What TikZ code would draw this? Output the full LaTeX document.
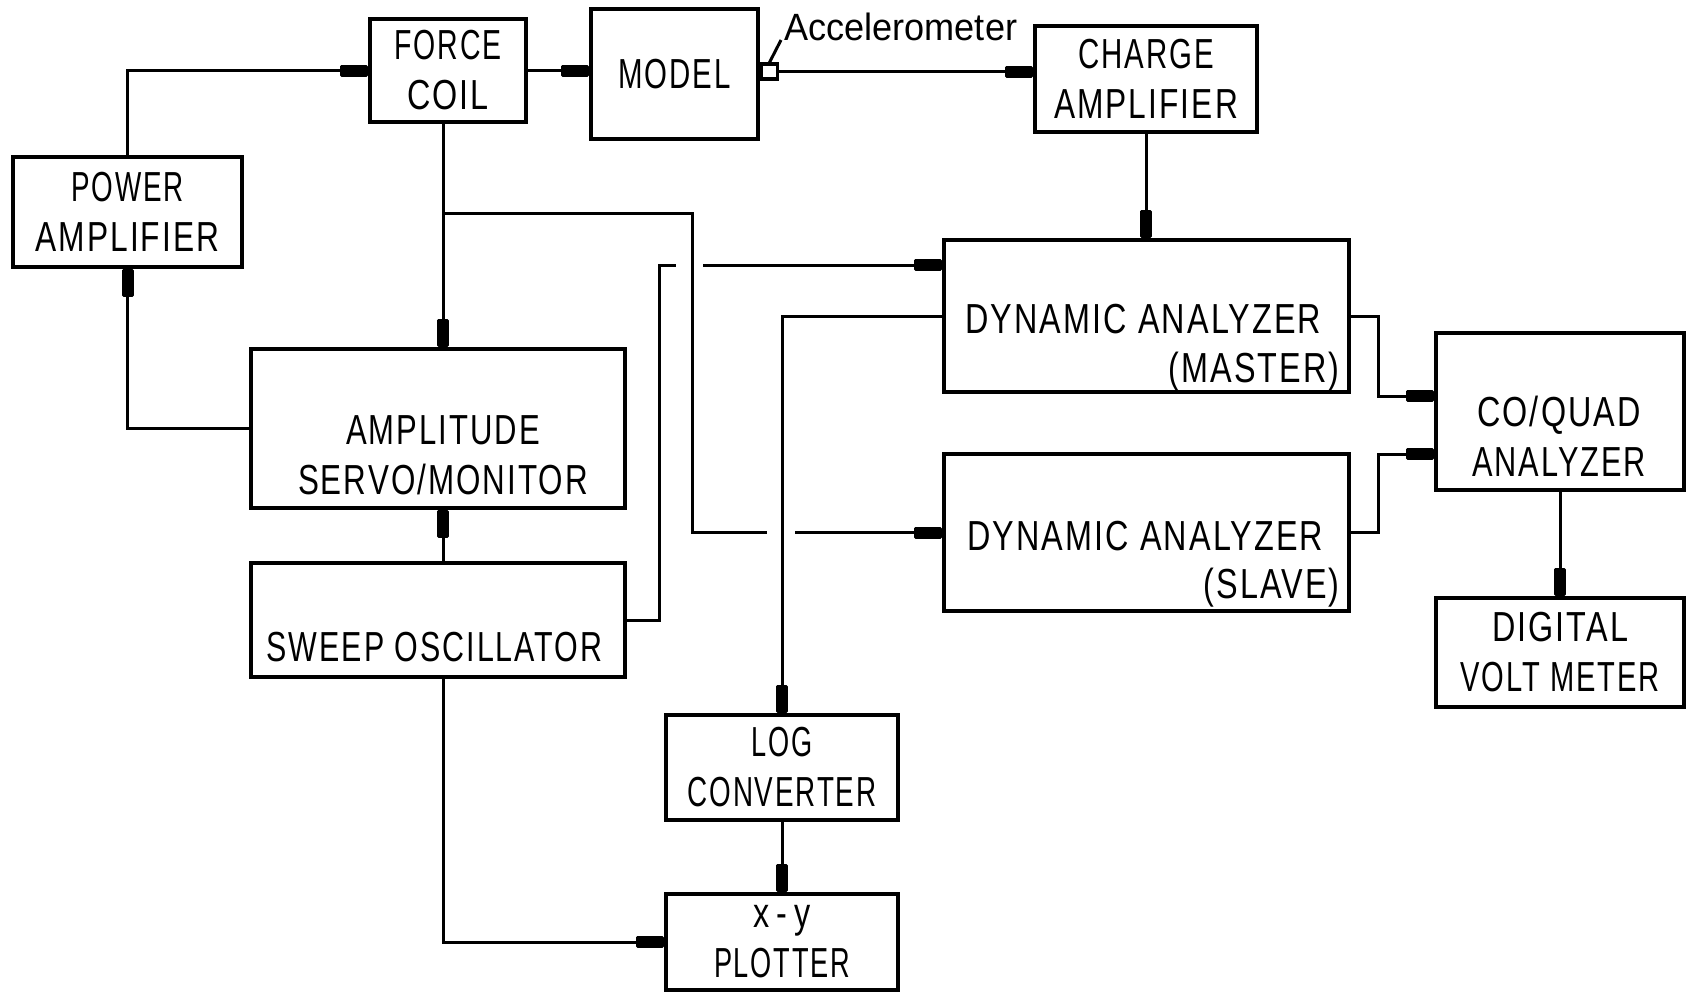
\documentclass[tikz,border=0pt]{standalone}
\usepackage{fontspec}
\setmainfont{Liberation Sans}[FakeStretch=0.77,LetterSpace=5]
\newfontfamily\accfont{Liberation Sans}[FakeStretch=0.95]
\usetikzlibrary{arrows.meta,calc}
\newcommand{\sx}[2]{\scalebox{#1}[1]{#2}}
\begin{document}
\begin{tikzpicture}[x=0.5pt,y=-0.5pt,
  box/.style={draw,line width=2.4pt,inner sep=0pt,align=center,font=\fontsize{21pt}{25pt}\selectfont},
  lbl/.style={inner sep=0pt,align=center,font=\fontsize{21pt}{25pt}\selectfont},
  line/.style={line width=1.5pt},
  conn/.style={line width=1.5pt,-{Rectangle[length=14pt,width=6pt,round]}},
]
\useasboundingbox (0,0) rectangle (1695,993);
% boxes
\node[box,minimum width=114.5pt,minimum height=55pt] (pa) at (127.5,212) {\sx{0.86}{POWER}\\\sx{0.98}{AMPLIFIER}};
\node[box,minimum width=78pt,minimum height=51.5pt] (fc) at (448,70.5) {\sx{0.88}{FORCE}\\COIL};
\node[box,minimum width=83.5pt,minimum height=65pt] (model) at (674.5,74) {\sx{0.91}{MODEL}};
\node[draw,line width=1.6pt,minimum width=8pt,minimum height=7.5pt,inner sep=0pt] (accel) at (769.5,71.5) {};
\node[inner sep=0pt,anchor=base west,font=\accfont\fontsize{19pt}{22pt}\selectfont] (acctxt) at (784,40) {Accelerometer};
\node[box,minimum width=111pt,minimum height=53pt] (ca) at (1146,79) {\sx{0.91}{CHARGE}\\\sx{0.98}{AMPLIFIER}};
\node[box,minimum width=187pt,minimum height=79.5pt] (amp) at (438,428.5) {};
\node[lbl] (ampT) at (443,455) {\sx{0.96}{AMPLITUDE}\\\sx{0.97}{SERVO/MONITOR}};
\node[box,minimum width=187pt,minimum height=57pt] (sw) at (438,620) {};
\node[lbl] (swT) at (434.5,647.5) {\sx{0.94}{SWEEP OSCILLATOR}};
\node[box,minimum width=202.5pt,minimum height=76pt] (mas) at (1146.5,316) {};
\node[lbl,anchor=base west] (masA) at (965,333) {DYNAMIC ANALYZER};
\node[lbl,anchor=base east] (masB) at (1340,382) {(MASTER)};
\node[box,minimum width=202.5pt,minimum height=78.5pt] (slv) at (1146.5,532.5) {};
\node[lbl,anchor=base west] (slvA) at (967,550) {DYNAMIC ANALYZER};
\node[lbl,anchor=base east] (slvB) at (1340,598) {(SLAVE)};
\node[box,minimum width=124pt,minimum height=78.5pt] (cq) at (1560,411.5) {};
\node[lbl] (cqT) at (1559,436) {CO/QUAD\\\sx{0.95}{ANALYZER}};
\node[box,minimum width=124pt,minimum height=54.5pt] (dvm) at (1560,652.5) {DIGITAL\\\sx{0.9}{VOLT METER}};
\node[box,minimum width=116pt,minimum height=52.5pt] (log) at (782,767.5) {\sx{0.84}{LOG}\\\sx{0.86}{CONVERTER}};
\node[box,minimum width=116pt,minimum height=48pt] (xy) at (782,942) {x\,-\,y\\\sx{0.84}{PLOTTER}};
% connectors
\draw[conn] (pa.north) |- (fc.west);
\draw[conn] (fc.east) -- (fc.east -| model.west);
\draw[conn] (accel.east) -- (accel.east -| ca.west);
\draw[line] (accel.north) -- ($(acctxt.base west)+(-3,0)$);
\draw[conn] ($(fc.south)+(-5,0)$) -- ($(amp.north)+(5,0)$);
\coordinate (br) at (443,213);
\coordinate (bx) at (692,532.5);
\coordinate (g1) at (767,532.5);
\coordinate (g2) at (795,532.5);
\draw[line] (br) -| (bx) -- (g1);
\draw[conn] (g2) -- (slv.west);
\coordinate (s1) at (659,265);
\coordinate (s2) at (676,265);
\coordinate (s3) at (703,265);
\draw[line] (sw.east) -| (s1) -- (s2);
\draw[conn] (s3) -- (s3 -| mas.west);
\draw[conn] (mas.west) -| (log.north);
\draw[conn] (log.south) -- (xy.north);
\draw[conn] (ca.south) -- (ca.south |- mas.north);
\draw[conn] (amp.west) -| (pa.south);
\draw[conn] ($(sw.north)+(5,0)$) -- ($(amp.south)+(5,0)$);
\draw[conn] ($(sw.south)+(5,0)$) |- (xy.west);
\coordinate (m1) at (1378,316);
\draw[conn] (mas.east) -- (m1) |- ($(cq.west)+(0,-15.5)$);
\coordinate (m2) at (1378,532.5);
\draw[conn] (slv.east) -- (m2) |- ($(cq.west)+(0,42.5)$);
\draw[conn] (cq.south) -- (dvm.north);
\end{tikzpicture}
\end{document}
